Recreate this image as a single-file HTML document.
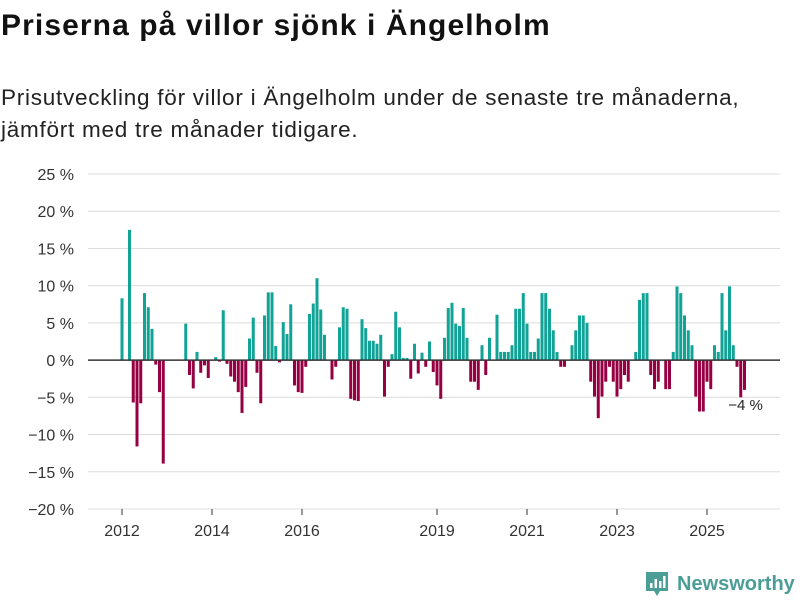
<!DOCTYPE html>
<html><head><meta charset="utf-8">
<style>
body{margin:0;width:800px;height:600px;background:#fff;overflow:hidden;font-family:"Liberation Sans",sans-serif;color:#111}
h1{position:absolute;left:1px;top:9px;margin:0;font-size:30px;font-weight:bold;letter-spacing:1.1px}
p{position:absolute;left:1px;top:82px;margin:0;font-size:22.5px;line-height:32px;color:#222;letter-spacing:0.75px;white-space:nowrap}
svg{position:absolute;left:0;top:0}
</style></head><body>
<h1>Priserna på villor sjönk i Ängelholm</h1>
<p>Prisutveckling för villor i Ängelholm under de senaste tre månaderna,<br>jämfört med tre månader tidigare.</p>
<svg id="c" width="800" height="600"></svg>
<script>
const values=[8.3,null,17.5,-5.7,-11.6,-5.8,9.0,7.1,4.2,-0.6,-4.3,-13.9,null,null,null,null,null,4.9,-2.0,-3.8,1.1,-1.7,-0.7,-2.4,null,0.4,-0.2,6.7,-0.5,-2.2,-2.9,-4.3,-7.1,-3.6,2.9,5.7,-1.7,-5.8,6.0,9.1,9.1,1.9,-0.3,5.1,3.5,7.5,-3.4,-4.3,-4.4,-0.9,6.2,7.6,11.0,6.8,3.4,null,-2.6,-0.9,4.4,7.1,6.9,-5.2,-5.4,-5.5,5.5,4.3,2.6,2.6,2.2,3.4,-4.9,-0.9,0.8,6.5,4.4,0.3,0.3,-2.5,2.2,-1.8,1.0,-0.9,2.5,-1.6,-3.4,-5.2,3.0,7.0,7.7,4.9,4.6,7.0,3.0,-2.9,-2.9,-4.0,2.0,-2.0,3.0,null,6.1,1.1,1.1,1.1,2.0,6.9,6.9,9.0,4.9,1.1,1.1,2.9,9.0,9.0,6.9,4.0,1.1,-0.9,-0.9,null,2.0,4.0,6.0,6.0,5.0,-2.9,-4.9,-7.8,-4.9,-2.9,-0.9,-2.9,-4.9,-3.9,-2.0,-2.9,null,1.1,8.1,9.0,9.0,-2.0,-3.9,-2.9,null,-3.9,-3.9,1.1,9.9,9.0,6.0,4.0,2.0,-4.9,-6.9,-6.9,-2.9,-3.9,2.0,1.1,9.0,4.0,9.9,2.0,-0.9,-5.0,-4.0];
const startYear=2012;
const yTicks=[25,20,15,10,5,0,-5,-10,-15,-20];
const xTickYears=[2012,2014,2016,2019,2021,2023,2025];
const lastLabel="−4 %";

const NS="http://www.w3.org/2000/svg";
const svg=document.getElementById('c');
const y0=174,y1=509,yMax=25,yMin=-20;
const y=v=>y0+(yMax-v)*(y1-y0)/(yMax-yMin);
const step=3.75,xStart=122;
const x=i=>xStart+i*step;
function mk(t,a){const e=document.createElementNS(NS,t);for(const k in a)e.setAttribute(k,a[k]);svg.appendChild(e);return e;}
yTicks.forEach(t=>{
  const g=mk('line',{x1:88,x2:780,y1:y(t),y2:y(t),stroke:'#dcdcdc','stroke-width':1});
  
  
  const l=mk('text',{x:74,y:y(t)+6,'text-anchor':'end','font-size':16,fill:'#333'});
  l.textContent=(t<0?'−'+(-t):t)+' %';
  
  
});
values.forEach((v,i)=>{
  if(v===null)return;
  const top=Math.min(y(v),y(0)),h=Math.abs(y(v)-y(0));
  const r=mk('rect',{x:x(i)-1.5,y:top,width:3,height:h,fill:v>=0?'#11a396':'#960043'});
  
  
});
const z=mk('line',{x1:88,x2:780,y1:y(0),y2:y(0),stroke:'#333','stroke-width':1.5});


xTickYears.forEach(yr=>{
  const xi=x((yr-startYear)*12);
  const tk=mk('line',{x1:xi,x2:xi,y1:509,y2:515,stroke:'#333','stroke-width':1});
  
  
  const l=mk('text',{x:xi,y:536,'text-anchor':'middle','font-size':16,fill:'#333'});
  l.textContent=yr;
  
  
});
const li=values.length-1;
const an=mk('text',{x:x(li)+1,y:y(values[li])+20,'text-anchor':'middle','font-size':15,fill:'#222'});
an.textContent=lastLabel;


</script>
<svg width="800" height="600" style="pointer-events:none">
<path d="M646 572h22v19h-8l-3 5-3-5h-8z" fill="#4a9e96"/>
<rect x="650" y="583" width="2.5" height="5" fill="#fff"/><rect x="654.5" y="579" width="2.5" height="9" fill="#fff"/><rect x="659" y="581" width="2.5" height="7" fill="#fff"/><rect x="663" y="576" width="2.5" height="12" fill="#fff"/>
<text x="677" y="590" font-size="20" font-weight="bold" fill="#4a9e96" font-family="Liberation Sans,sans-serif">Newsworthy</text>
</svg>
</body></html>
